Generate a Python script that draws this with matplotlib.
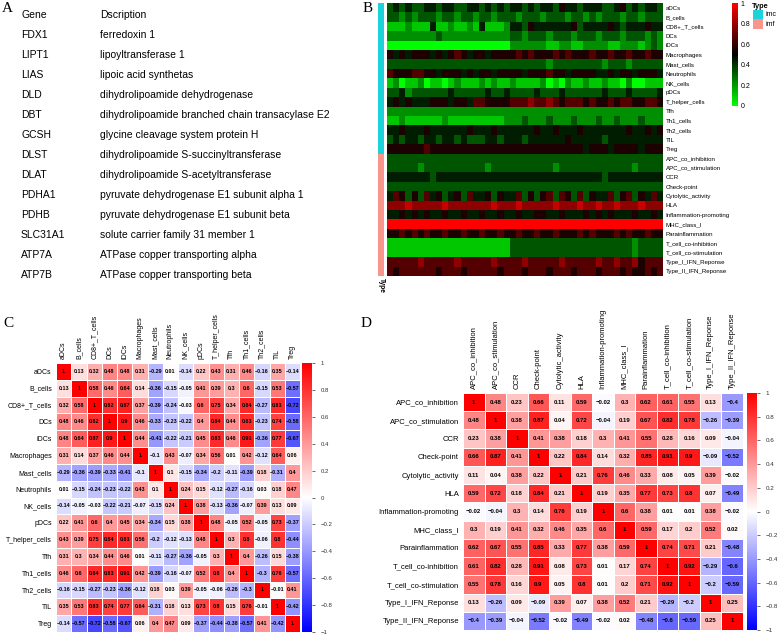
import numpy as np
import matplotlib
matplotlib.use('Agg')
import matplotlib.pyplot as plt
from matplotlib.colors import LinearSegmentedColormap, ListedColormap
from matplotlib import font_manager

plt.rcParams['font.family'] = ['Liberation Sans', 'DejaVu Sans']

# ---------------- data ----------------
genes = ["FDX1", "LIPT1", "LIAS", "DLD", "DBT", "GCSH", "DLST", "DLAT",
         "PDHA1", "PDHB", "SLC31A1", "ATP7A", "ATP7B"]
descriptions = ["ferredoxin 1", "lipoyltransferase 1", "lipoic acid synthetas",
                "dihydrolipoamide dehydrogenase",
                "dihydrolipoamide branched chain transacylase E2",
                "glycine cleavage system protein H",
                "dihydrolipoamide S-succinyltransferase",
                "dihydrolipoamide S-acetyltransferase",
                "pyruvate dehydrogenase E1 subunit alpha 1",
                "pyruvate dehydrogenase E1 subunit beta",
                "solute carrier family 31 member 1",
                "ATPase copper transporting alpha",
                "ATPase copper transporting beta"]

imm_cells = ["aDCs", "B_cells", "CD8+_T_cells", "DCs", "iDCs", "Macrophages",
             "Mast_cells", "Neutrophils", "NK_cells", "pDCs", "T_helper_cells",
             "Tfh", "Th1_cells", "Th2_cells", "TIL", "Treg"]
imm_funcs = ["APC_co_inhibition", "APC_co_stimulation", "CCR", "Check-point",
             "Cytolytic_activity", "HLA", "Inflammation-promoting", "MHC_class_I",
             "Parainflammation", "T_cell_co-inhibition", "T_cell_co-stimulation",
             "Type_I_IFN_Reponse", "Type_II_IFN_Reponse"]
b_types = ["imc"] * len(imm_cells) + ["imf"] * len(imm_funcs)

# heatmap B: per-row score codes (digit/9 -> score 0..1), estimated by eye
b_codes = [
    "34343 34434 43344 34343 44343 44354 43444 33453 43443",
    "33232 33323 32332 33233 32333 23332 33232 33323 32333",
    "11121 11411 21121 41112 44354 44444 53444 45434 44544",
    "22222 22232 22222 22222 33233 32333 23332 33323 33232",
    "00000 00000 00000 00000 22222 21122 11222 21122 21232",
    "54545 55454 56545 54555 56565 55656 55565 56556 55655",
    "33333 33333 33333 33333 33333 32333 33333 23332 33333",
    "65556 65545 55454 55455 55455 56554 55554 45455 45554",
    "12011 20110 12111 21211 21111 20102 11211 21102 00111",
    "33423 33333 43333 34334 33334 33343 33333 43334 33334",
    "45454 44555 45546 65555 66676 67656 66565 56566 55665",
    "22222 22222 22222 22222 22222 22222 22222 22222 22222",
    "11211 11112 11111 11112 22322 23222 32223 22322 23222",
    "44544 45444 44454 44544 44445 44544 45444 44445 44545",
    "34344 34434 43433 34434 44344 44445 44444 34444 44444",
    "55555 56555 55555 55555 55555 55555 55455 54555 54555",
    "33333 33333 33333 33333 33333 33333 33333 33333 33333",
    "33333 23333 33333 32333 33333 33233 33333 33333 23333",
    "44444 44344 44444 44444 44444 44444 44444 34444 44444",
    "33333 33333 33333 33333 33333 33333 33333 33333 33333",
    "46535 36453 45364 45354 46353 56365 36354 46356 35464",
    "77787 77778 77777 77877 78777 77877 78778 77877 78777",
    "44545 45445 44544 54454 45445 54454 44545 45444 54454",
    "99999 99999 99999 99999 99999 99999 99999 99999 99999",
    "55656 56556 55655 65565 56556 55655 56565 55656 55655",
    "11111 11111 11111 11111 33333 33333 33333 33333 23333",
    "11111 11111 11111 11111 33333 33333 33333 33333 23333",
    "66666 76666 67666 66766 66766 66676 66667 66766 75666",
    "65666 66656 66566 66656 66566 65666 56665 66656 55656",
]

corr_c = [
    [1, 0.13, 0.32, 0.48, 0.48, 0.31, -0.29, 0.01, -0.14, 0.22, 0.43, 0.31, 0.46, -0.16, 0.35, -0.14],
    [0.13, 1, 0.58, 0.46, 0.64, 0.14, -0.36, -0.15, -0.05, 0.41, 0.39, 0.3, 0.6, -0.15, 0.53, -0.57],
    [0.32, 0.58, 1, 0.82, 0.87, 0.37, -0.39, -0.24, -0.03, 0.6, 0.75, 0.34, 0.84, -0.27, 0.83, -0.72],
    [0.48, 0.46, 0.82, 1, 0.9, 0.46, -0.33, -0.23, -0.22, 0.4, 0.84, 0.44, 0.83, -0.23, 0.74, -0.58],
    [0.48, 0.64, 0.87, 0.9, 1, 0.44, -0.41, -0.22, -0.21, 0.45, 0.83, 0.46, 0.91, -0.36, 0.77, -0.67],
    [0.31, 0.14, 0.37, 0.46, 0.44, 1, -0.1, 0.43, -0.07, 0.34, 0.56, 0.01, 0.42, -0.12, 0.64, 0.06],
    [-0.29, -0.36, -0.39, -0.33, -0.41, -0.1, 1, 0.1, -0.15, -0.34, -0.2, -0.11, -0.39, 0.18, -0.31, 0.4],
    [0.01, -0.15, -0.24, -0.23, -0.22, 0.43, 0.1, 1, 0.24, 0.15, -0.12, -0.27, -0.16, 0.03, 0.18, 0.47],
    [-0.14, -0.05, -0.03, -0.22, -0.21, -0.07, -0.15, 0.24, 1, 0.38, -0.13, -0.36, -0.07, 0.39, 0.13, 0.09],
    [0.22, 0.41, 0.6, 0.4, 0.45, 0.34, -0.34, 0.15, 0.38, 1, 0.48, -0.05, 0.52, -0.05, 0.73, -0.37],
    [0.43, 0.39, 0.75, 0.84, 0.83, 0.56, -0.2, -0.12, -0.13, 0.48, 1, 0.3, 0.8, -0.06, 0.8, -0.44],
    [0.31, 0.3, 0.34, 0.44, 0.46, 0.01, -0.11, -0.27, -0.36, -0.05, 0.3, 1, 0.4, -0.26, 0.15, -0.38],
    [0.46, 0.6, 0.84, 0.83, 0.91, 0.42, -0.39, -0.16, -0.07, 0.52, 0.8, 0.4, 1, -0.3, 0.76, -0.57],
    [-0.16, -0.15, -0.27, -0.23, -0.36, -0.12, 0.18, 0.03, 0.39, -0.05, -0.06, -0.26, -0.3, 1, -0.01, 0.41],
    [0.35, 0.53, 0.83, 0.74, 0.77, 0.64, -0.31, 0.18, 0.13, 0.73, 0.8, 0.15, 0.76, -0.01, 1, -0.42],
    [-0.14, -0.57, -0.72, -0.58, -0.67, 0.06, 0.4, 0.47, 0.09, -0.37, -0.44, -0.38, -0.57, 0.41, -0.42, 1],
]

corr_d = [
    [1, 0.48, 0.23, 0.66, 0.11, 0.59, -0.02, 0.3, 0.62, 0.61, 0.55, 0.13, -0.4],
    [0.48, 1, 0.38, 0.87, 0.04, 0.72, -0.04, 0.19, 0.67, 0.82, 0.78, -0.26, -0.39],
    [0.23, 0.38, 1, 0.41, 0.38, 0.18, 0.3, 0.41, 0.55, 0.28, 0.16, 0.09, -0.04],
    [0.66, 0.87, 0.41, 1, 0.22, 0.84, 0.14, 0.32, 0.85, 0.91, 0.9, -0.09, -0.52],
    [0.11, 0.04, 0.38, 0.22, 1, 0.21, 0.76, 0.46, 0.33, 0.08, 0.05, 0.39, -0.02],
    [0.59, 0.72, 0.18, 0.84, 0.21, 1, 0.19, 0.35, 0.77, 0.73, 0.8, 0.07, -0.49],
    [-0.02, -0.04, 0.3, 0.14, 0.76, 0.19, 1, 0.6, 0.38, 0.01, 0.01, 0.38, -0.02],
    [0.3, 0.19, 0.41, 0.32, 0.46, 0.35, 0.6, 1, 0.59, 0.17, 0.2, 0.52, 0.02],
    [0.62, 0.67, 0.55, 0.85, 0.33, 0.77, 0.38, 0.59, 1, 0.74, 0.71, 0.21, -0.48],
    [0.61, 0.82, 0.28, 0.91, 0.08, 0.73, 0.01, 0.17, 0.74, 1, 0.92, -0.29, -0.6],
    [0.55, 0.78, 0.16, 0.9, 0.05, 0.8, 0.01, 0.2, 0.71, 0.92, 1, -0.2, -0.59],
    [0.13, -0.26, 0.09, -0.09, 0.39, 0.07, 0.38, 0.52, 0.21, -0.29, -0.2, 1, 0.25],
    [-0.4, -0.39, -0.04, -0.52, -0.02, -0.49, -0.02, 0.02, -0.48, -0.6, -0.59, 0.25, 1],
]

# ---------------- layout helpers ----------------
W, H = 777, 634
fig = plt.figure(figsize=(W / 100, H / 100), dpi=100)


def ax_px(x0, y0, x1, y1):
    return fig.add_axes([x0 / W, 1 - y1 / H, (x1 - x0) / W, (y1 - y0) / H])


def ftxt(x, y, s, **kw):
    fig.text(x / W, 1 - y / H, s, **kw)


def fmt(v):
    if v == 1:
        return "1"
    s = f"{abs(v):g}"
    return ("\u2212" + s) if v < 0 else s


serif = ['Liberation Serif', 'DejaVu Serif']
names = {f.name for f in font_manager.fontManager.ttflist}
if 'Liberation Sans Narrow' in names:
    tab_family, tab_size = ['Liberation Sans Narrow', 'DejaVu Sans'], 9.2
else:
    tab_family, tab_size = ['Liberation Sans', 'DejaVu Sans'], 7.5

# ---------------- panel letters ----------------
for lab, x, y in [("A", 2, 9), ("B", 363, 9), ("C", 3, 323), ("D", 361, 323)]:
    ftxt(x, y, lab, family=serif, fontsize=11, va='center', ha='left')

# ---------------- panel A ----------------
ftxt(21, 15, "Gene", family=tab_family, fontsize=tab_size, va='center')
ftxt(100, 15, "Dscription", family=tab_family, fontsize=tab_size, va='center')
for i, (g, d) in enumerate(zip(genes, descriptions)):
    y = 35 + i * 20
    ftxt(21, y, g, family=tab_family, fontsize=tab_size, va='center')
    ftxt(100, y, d, family=tab_family, fontsize=tab_size, va='center')

# ---------------- panel B ----------------
b_vals = np.array([[int(c) / 9 for c in code.replace(" ", "")] for code in b_codes])
b_rows = imm_cells + imm_funcs
gbr = LinearSegmentedColormap.from_list("gbr", ["#00FF00", "#000000", "#FF0000"])
col_imc, col_imf = "#1DD3DA", "#F9958D"

axh = ax_px(387, 3, 663, 276)
axh.imshow(b_vals, aspect='auto', cmap=gbr, vmin=0, vmax=1, interpolation='nearest')
axh.set_xticks([])
axh.yaxis.tick_right()
axh.set_yticks(range(len(b_rows)))
axh.set_yticklabels(b_rows, fontsize=4.4)
axh.tick_params(axis='y', length=0, pad=2)
for s in axh.spines.values():
    s.set_visible(False)

axa = ax_px(378, 3, 384, 276)
type_idx = np.array([[0 if t == "imc" else 1] for t in b_types])
axa.imshow(type_idx, aspect='auto', cmap=ListedColormap([col_imc, col_imf]),
           vmin=0, vmax=1, interpolation='nearest')
axa.set_axis_off()
ftxt(381, 278, "Type", rotation=270, fontsize=4.8, fontweight='bold',
     ha='center', va='top')

axcb = ax_px(732, 3, 738, 106)
axcb.imshow(np.linspace(1, 0, 256)[:, None], aspect='auto', cmap=gbr, vmin=0, vmax=1,
            extent=[0, 1, 0, 1])
axcb.set_xticks([])
axcb.yaxis.tick_right()
cb_ticks = [0, 0.2, 0.4, 0.6, 0.8, 1]
axcb.set_yticks(cb_ticks)
axcb.set_yticklabels([fmt(t) if t != 0 else "0" for t in cb_ticks], fontsize=5)
axcb.tick_params(axis='y', length=0, pad=2)
for s in axcb.spines.values():
    s.set_visible(False)

ftxt(752, 6, "Type", fontsize=5.3, fontweight='bold', va='center')
axl = ax_px(753, 10, 763, 29)
axl.imshow([[0], [1]], aspect='auto', cmap=ListedColormap([col_imc, col_imf]),
           vmin=0, vmax=1, interpolation='nearest')
axl.set_axis_off()
ftxt(765, 15, "imc", fontsize=5, va='center')
ftxt(765, 25, "imf", fontsize=5, va='center')

# ---------------- corrplots ----------------
bwr = LinearSegmentedColormap.from_list("bwr_c", ["#0000FF", "#FFFFFF", "#FF0000"])


def corrplot(mat, labels, box, cbox, lab_fs, num_fs, cb_fs):
    m = np.array(mat, dtype=float)
    n = len(labels)
    ax = ax_px(*box)
    ax.pcolormesh(np.arange(n + 1), np.arange(n + 1), m, cmap=bwr, vmin=-1, vmax=1,
                  edgecolors='white', linewidth=0.5)
    ax.set_xlim(0, n)
    ax.set_ylim(n, 0)
    ax.set_xticks(np.arange(n) + 0.5)
    ax.set_yticks(np.arange(n) + 0.5)
    ax.xaxis.tick_top()
    ax.set_xticklabels(labels, rotation=90, fontsize=lab_fs, ha='center', va='bottom')
    ax.set_yticklabels(labels, fontsize=lab_fs)
    ax.tick_params(length=0, pad=3)
    for s in ax.spines.values():
        s.set_visible(False)
    for i in range(n):
        for j in range(n):
            ax.text(j + 0.5, i + 0.5, fmt(m[i, j]), ha='center', va='center',
                    fontsize=num_fs, fontweight='bold', color='black')
    cax = ax_px(*cbox)
    cax.imshow(np.linspace(1, -1, 256)[:, None], aspect='auto', cmap=bwr, vmin=-1,
               vmax=1, extent=[0, 1, -1, 1])
    cax.set_xticks([])
    cax.yaxis.tick_right()
    ticks = np.round(np.arange(-1, 1.01, 0.2), 1)
    cax.set_yticks(ticks)
    cax.set_yticklabels([fmt(t) if abs(t) > 1e-9 else "0" for t in ticks], fontsize=cb_fs)
    cax.tick_params(axis='y', length=2, width=0.5, pad=4, colors='#333333')
    cax.set_ylim(-1, 1)
    for s in cax.spines.values():
        s.set_visible(False)


corrplot(corr_c, imm_cells, (56, 363, 300, 632), (302, 363, 312, 632), 5.0, 3.9, 4.3)
corrplot(corr_d, imm_funcs, (463, 393, 743, 630), (747, 393, 757, 630), 5.5, 4.3, 4.5)

fig.savefig("out.png", dpi=100)
